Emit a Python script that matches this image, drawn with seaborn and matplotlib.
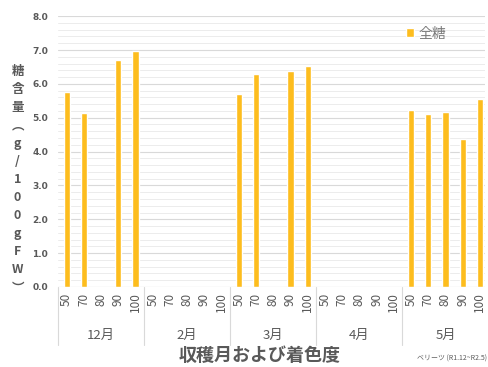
import numpy as np
import pandas as pd
import matplotlib
matplotlib.use("Agg")
import matplotlib.pyplot as plt
from matplotlib.ticker import MultipleLocator
import seaborn as sns

# Harvest months and colour grades
months = ["12月", "2月", "3月", "4月", "5月"]
grades = ["50", "70", "80", "90", "100"]

# Total sugar (g/100gFW); NaN = no sample
sugar_dec = [5.75, 5.13, np.nan, 6.70, 6.96]
sugar_feb = [np.nan, np.nan, np.nan, np.nan, np.nan]
sugar_mar = [5.69, 6.28, np.nan, 6.37, 6.52]
sugar_apr = [np.nan, np.nan, np.nan, np.nan, np.nan]
sugar_may = [5.22, 5.10, 5.16, 4.37, 5.55]

yticks = [0.0, 1.0, 2.0, 3.0, 4.0, 5.0, 6.0, 7.0, 8.0]

sns.set_theme(style="white")
plt.rcParams["font.family"] = ["Noto Sans CJK JP", "DejaVu Sans"]

values = sugar_dec + sugar_feb + sugar_mar + sugar_apr + sugar_may
df = pd.DataFrame({
    "pos": list(range(len(values))),
    "grade": grades * len(months),
    "month": np.repeat(months, len(grades)),
    "sugar": values,
})

gray = "#595959"
bar_color = "#FDBD1E"

fig = plt.figure(figsize=(4.89, 3.67), dpi=100)
ax = fig.add_axes([0.1186, 0.218, 0.8734, 0.738])

sns.barplot(data=df, x="pos", y="sugar", order=list(range(len(values))),
            color=bar_color, width=0.36, saturation=1, ax=ax, label="全糖")

ax.set_ylim(0, 8)
ax.set_xlim(-0.5, 24.3)
ax.yaxis.set_major_locator(MultipleLocator(1.0))
ax.yaxis.set_minor_locator(MultipleLocator(0.2))
ax.set_yticks(yticks)
ax.set_yticklabels([f"{v:.1f}" for v in yticks], fontsize=6.5, color=gray,
                   fontweight="bold", family="DejaVu Sans")
ax.grid(which="major", axis="y", color="#d9d9d9", lw=0.8)
ax.grid(which="minor", axis="y", color="#ececec", lw=0.7)
ax.set_axisbelow(True)
for s in ax.spines.values():
    s.set_visible(False)
ax.tick_params(axis="y", length=0, pad=7)

ax.set_xticks(df["pos"])
ax.set_xticklabels(df["grade"], rotation=90, fontsize=8.5, color=gray)
ax.tick_params(axis="x", length=0, pad=4)
ax.set_xlabel("")
ax.set_ylabel("")

# baseline and month group separators
ax.axhline(0, color="#d9d9d9", lw=0.8)
for b in np.arange(-0.5, len(values), len(grades)):
    ax.plot([b, b], [0, -1.72], color="#d9d9d9", lw=0.8, clip_on=False)
for i, m in enumerate(months):
    ax.text(i * len(grades) + 2, -1.42, m, ha="center", va="center",
            fontsize=9.5, color=gray)

fig.text(0.53, 0.03, "収穫月および着色度", ha="center", va="center",
         fontsize=13, color=gray, fontweight="bold")
fig.text(0.995, 0.012, "ベリーツ (R1.12~R2.5)", ha="right", va="bottom",
         fontsize=5, color=gray)

ylabel_chars = ["糖", "含", "量", "︵", "g", "/", "1", "0", "0", "g", "F", "W", "︶"]
fig.text(0.036, 0.51, "\n".join(ylabel_chars), ha="center", va="center",
         fontsize=9, color=gray, fontweight="bold", linespacing=1.5)

leg = ax.legend(loc="center left", bbox_to_anchor=(0.785, 0.935), frameon=False,
                fontsize=10, handlelength=0.6, handleheight=0.6,
                handletextpad=0.3)
for t in leg.get_texts():
    t.set_color("#7a7a7a")

fig.savefig("out.png", dpi=100)
